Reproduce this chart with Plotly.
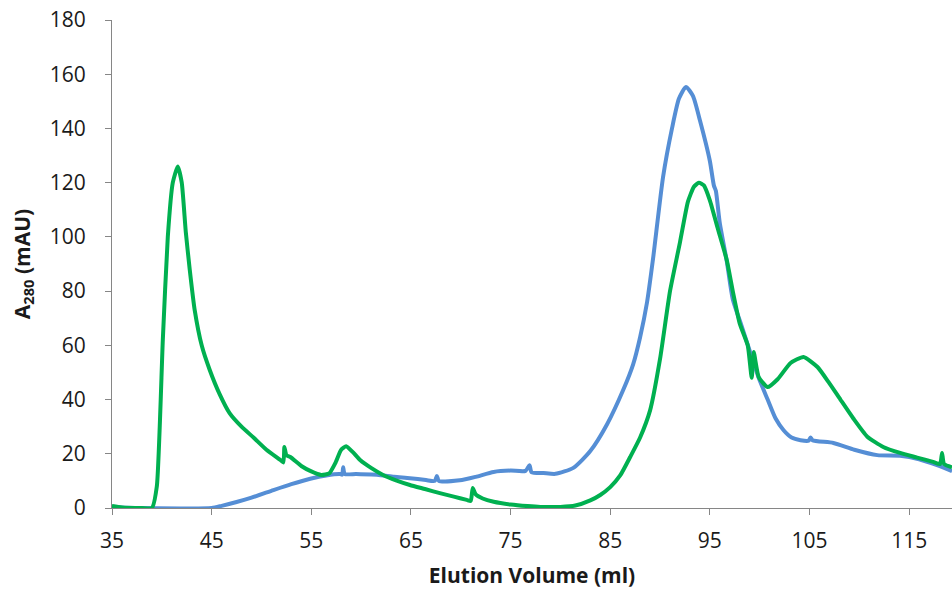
import plotly.graph_objects as go

# Elution volume (ml) and A280 (mAU) for the two chromatograms
blue_volume = [35, 36, 38, 45, 46, 47.5, 49, 51.2, 53, 54.9, 56.5, 57.9, 58.1, 58.2, 58.35,
               59.5, 61.6, 63.3, 64.9, 66.5, 67.4, 67.6, 67.8, 69.9, 71.5, 73.3, 75, 76.5,
               76.9, 77.1, 78.3, 79.5, 81.3, 83, 84.7, 86.3, 87.3, 88, 88.7, 89.3, 90.3, 91.2,
               91.9, 92.6, 93.3, 94, 95, 95.4, 95.6, 96, 96.7, 97.3, 98.2, 99, 99.9, 100.8,
               101.6, 102.4, 103.2, 104.1, 104.9, 105.1, 105.3, 107.4, 109.5, 111.8, 114.1,
               116, 117.8, 119.3]
blue_a280 = [0.5, 0.2, 0, 0, 0.8, 2.2, 3.8, 6.6, 8.8, 10.8, 12, 12.5, 12.3, 15, 12.6,
             12.5, 12.3, 11.5, 11, 10.3, 10, 11.8, 10, 10.2, 11.5, 13.3, 13.8, 13.7,
             15.8, 13.2, 12.9, 12.6, 14.8, 21, 31, 43.5, 53, 63, 76, 92, 122, 140,
             151, 155.3, 152, 143, 128, 119, 117, 105, 91, 77, 67, 58, 48, 40,
             33, 28.7, 26, 25, 24.8, 26, 25, 24, 21.5, 19.5, 19.3,
             18, 15.8, 13.6]

green_volume = [35, 36, 38, 39.0, 39.5, 40.1, 40.6, 41.1, 41.6, 42.0, 42.4, 42.8, 43.3, 44.0,
                44.8, 45.8, 46.8, 48.0, 49.2, 50.5, 51.9, 52.2, 52.3, 52.5, 52.9, 54.0, 55.0,
                56.0, 56.8, 57.4, 58.0, 58.5, 59.2, 59.9, 61.0, 62.2, 63.5, 64.9, 66.4, 67.9,
                69.3, 70.6, 71.0, 71.2, 71.5, 72.2, 73.3, 75.0, 76.7, 78.0, 80.0, 81.5, 83.0,
                84.0, 85.0, 86.0, 87.0, 88.0, 89.0, 90.0, 91.0, 92.0, 92.8, 93.4, 93.9, 94.4,
                95.0, 95.8, 96.7, 97.3, 98.0, 98.8, 99.2, 99.4, 99.9, 100.8, 101.8, 103.1,
                104.4, 105.8, 106.9, 108.1, 109.4, 110.8, 112.4, 114.1, 115.8, 117.4, 118.1,
                118.3, 118.5, 119.3]
green_a280 = [0.7, 0.2, 0, 0, 8, 62, 100, 120, 126, 120, 102, 88, 73, 60,
              51, 42, 35, 30, 26, 21.5, 17.7, 16.8, 22.5, 19.5, 18.8, 15.5, 13.5,
              12.2, 12.8, 16.5, 21.5, 22.8, 20.5, 17.7, 14.8, 12.2, 10.2, 8.5, 7.0, 5.5,
              4.2, 3.0, 2.6, 7.4, 5.0, 3.5, 2.3, 1.3, 0.7, 0.4, 0.4, 0.9, 2.8,
              4.8, 7.7, 12, 18.8, 26, 36, 55, 80, 98, 113, 118.5, 120, 119,
              113.5, 103, 91.4, 80, 68, 60, 48, 57.5, 48.3, 44.6, 47.5, 53.5,
              55.7, 52, 46.5, 40, 33, 26.3, 22.5, 20.3, 18.6, 17, 16.2,
              20.3, 16.2, 15]

x_ticks = [35, 45, 55, 65, 75, 85, 95, 105, 115]
y_ticks = [0, 20, 40, 60, 80, 100, 120, 140, 160, 180]

AXIS_GREY = "#868686"
TEXT = "#1a1a1a"
FONT = "Open Sans"

fig = go.Figure()
fig.add_trace(go.Scatter(
    x=blue_volume, y=blue_a280, mode="lines",
    line=dict(color="#558ED5", width=4, shape="spline", smoothing=0.6),
    showlegend=False,
))
fig.add_trace(go.Scatter(
    x=green_volume, y=green_a280, mode="lines",
    line=dict(color="#00B050", width=4, shape="spline", smoothing=0.5),
    showlegend=False,
))

fig.update_layout(
    width=952, height=591,
    margin=dict(l=112, r=0, t=20, b=83),
    paper_bgcolor="white", plot_bgcolor="white",
    font=dict(family=FONT, color=TEXT, size=21),
    xaxis=dict(
        range=[35, 119.3], tickmode="array", tickvals=x_ticks,
        ticktext=[str(v) for v in x_ticks],
        showgrid=False, zeroline=False,
        showline=True, linecolor=AXIS_GREY, linewidth=1,
        ticks="outside", ticklen=6, tickcolor=AXIS_GREY, tickwidth=1,
        ticklabelstandoff=8,
        tickfont=dict(family=FONT, size=21, color=TEXT),
        title=dict(text="<b>Elution Volume (ml)</b>", standoff=15,
                   font=dict(family=FONT, size=21, color=TEXT)),
    ),
    yaxis=dict(
        range=[0, 180], tickmode="array", tickvals=y_ticks,
        showgrid=False, zeroline=False,
        showline=True, linecolor=AXIS_GREY, linewidth=1,
        ticks="outside", ticklen=6, tickcolor=AXIS_GREY, tickwidth=1,
        ticklabelstandoff=15,
        tickfont=dict(family=FONT, size=21, color=TEXT),
        title=dict(text="<b>A<sub>280</sub> (mAU)</b>", standoff=13,
                   font=dict(family=FONT, size=21, color=TEXT)),
    ),
)

fig.write_html("out.html")
